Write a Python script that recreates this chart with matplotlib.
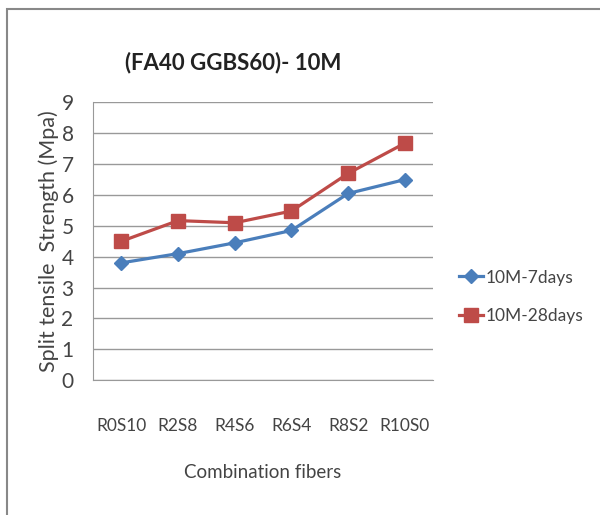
import matplotlib
matplotlib.use('Agg')
import matplotlib.pyplot as plt
from matplotlib.patches import Rectangle

# data
combos = ['R0S10', 'R2S8', 'R4S6', 'R6S4', 'R8S2', 'R10S0']
days7 = [3.8, 4.1, 4.45, 4.85, 6.05, 6.5]
days28 = [4.5, 5.17, 5.1, 5.48, 6.7, 7.68]
yticks = list(range(0, 10))

narrow = ['Lato', 'DejaVu Sans']

fig = plt.figure(figsize=(6.0, 5.15), dpi=100)
ax = fig.add_axes([0.155, 0.262, 0.567, 0.539])

x = range(len(combos))
ax.plot(x, days7, color='#4a7ebb', marker='D', markersize=7, linewidth=2.3,
        label='10M-7days')
ax.plot(x, days28, color='#be4b48', marker='s', markersize=9.5, linewidth=2.3,
        label='10M-28days')

ax.set_xlim(-0.5, len(combos) - 0.5)
ax.set_ylim(0, 9)
ax.set_yticks(yticks)
ax.set_xticks(list(x))
ax.set_xticklabels(combos, family=narrow, fontsize=12.5, color='#444444')
for lab in ax.get_yticklabels():
    lab.set_family(narrow)
    lab.set_fontsize(15)
    lab.set_color('#444444')
ax.tick_params(axis='y', length=0, pad=14)
ax.tick_params(axis='x', length=0, pad=27)
ax.yaxis.grid(True, color='#999999', linewidth=1)
ax.set_axisbelow(True)
for s in ['top', 'right']:
    ax.spines[s].set_visible(False)
for s in ['left', 'bottom']:
    ax.spines[s].set_color('#999999')

ax.set_ylabel('Split tensile  Strength (Mpa)', family=narrow, fontsize=15.5,
              color='#444444', labelpad=2)
ax.set_xlabel('Combination fibers', family=narrow, fontsize=13.5, color='#444444',
              labelpad=22)

fig.text(0.388, 0.878, '(FA40 GGBS60)- 10M', family=narrow, fontsize=16,
         fontweight='bold', ha='center', va='center', color='#222222')

leg = ax.legend(loc='center left', bbox_to_anchor=(1.03, 0.30), frameon=False,
                prop={'family': narrow, 'size': 12.5}, handlelength=1.4,
                handletextpad=0.15, labelspacing=1.3)
for t in leg.get_texts():
    t.set_color('#444444')

# outer border of the chart
fig.patches.append(Rectangle((0.012, -0.01), 1.0, 0.993, transform=fig.transFigure,
                             fill=False, edgecolor='#888888', linewidth=1.5))

fig.savefig('out.png', dpi=100)
